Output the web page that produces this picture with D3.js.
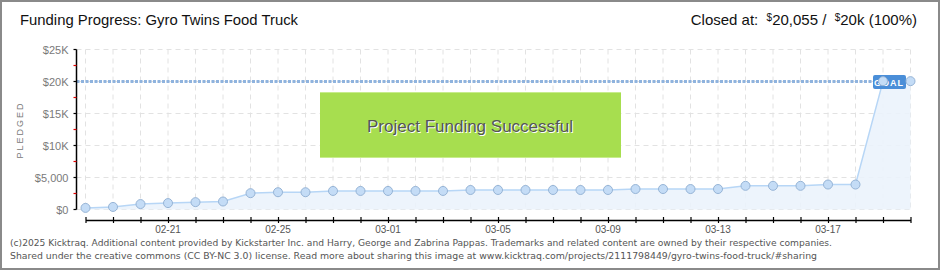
<!DOCTYPE html>
<html>
<head>
<meta charset="utf-8">
<script src="https://cdn.jsdelivr.net/npm/d3@7"></script>
<style>
  body { margin: 0; background: #fff; }
  svg { display: block; }
</style>
</head>
<body>
<svg id="chart" width="940" height="270"></svg>
<script>
// daily pledged totals
var dates = ["2025-02-18","2025-02-19","2025-02-20","2025-02-21","2025-02-22","2025-02-23",
  "2025-02-24","2025-02-25","2025-02-26","2025-02-27","2025-02-28","2025-03-01","2025-03-02",
  "2025-03-03","2025-03-04","2025-03-05","2025-03-06","2025-03-07","2025-03-08","2025-03-09",
  "2025-03-10","2025-03-11","2025-03-12","2025-03-13","2025-03-14","2025-03-15","2025-03-16",
  "2025-03-17","2025-03-18","2025-03-19","2025-03-20"];
var pledged = [250, 400, 850, 1000, 1150, 1250, 2550, 2700, 2700, 2900, 2900, 2900, 2900,
  2900, 3050, 3050, 3050, 3050, 3050, 3050, 3200, 3200, 3200, 3200, 3700, 3700, 3700,
  3900, 3900, 20055, 20055];
var goal = 20000;
var yTicks = [0, 5000, 10000, 15000, 20000, 25000];
var yTickLabels = ["$0", "$5,000", "$10K", "$15K", "$20K", "$25K"];
var xLabelDates = ["2025-02-21","2025-02-25","2025-03-01","2025-03-05","2025-03-09","2025-03-13","2025-03-17"];

var parse = d3.timeParse("%Y-%m-%d");
var data = dates.map(function(d, i) { return { date: parse(d), value: pledged[i] }; });

var svg = d3.select("#chart");
var font = "'Liberation Sans', Arial, sans-serif";

var x = d3.scaleTime()
  .domain([data[0].date, data[data.length - 1].date])
  .range([85.5, 910.5]);
var y = d3.scaleLinear().domain([0, 25000]).range([209.5, 49.5]);
var axisX = 76.5, plotRight = 910.5;

// frame
svg.append("rect").attr("x", 1).attr("y", 1).attr("width", 938).attr("height", 268)
  .attr("fill", "#fff").attr("stroke", "#8a8a8a").attr("stroke-width", 2);

// grid
var grid = svg.append("g").attr("stroke", "#e2e2e2").attr("stroke-dasharray", "5,4");
grid.selectAll("line.h").data(yTicks).enter().append("line")
  .attr("x1", axisX).attr("x2", plotRight)
  .attr("y1", function(d) { return y(d); }).attr("y2", function(d) { return y(d); });
grid.selectAll("line.v").data(data).enter().append("line")
  .attr("x1", function(d) { return x(d.date); }).attr("x2", function(d) { return x(d.date); })
  .attr("y1", y(25000)).attr("y2", y(0));

// area
svg.append("path").datum(data)
  .attr("fill", "#ebf3fc").attr("fill-opacity", 0.9)
  .attr("d", d3.area().x(function(d) { return x(d.date); }).y0(y(0)).y1(function(d) { return y(d.value); }));

// success box
var box = svg.append("g");
box.append("rect").attr("x", 320).attr("y", 92).attr("width", 301).attr("height", 66)
  .attr("fill", "#a7de4f");
box.append("line").attr("x1", 320).attr("x2", 621).attr("y1", 92.5).attr("y2", 92.5).attr("stroke", "#c7ec8d");
box.append("line").attr("x1", 320).attr("x2", 621).attr("y1", 157.5).attr("y2", 157.5).attr("stroke", "#c7ec8d");
box.append("text").attr("x", 471).attr("y", 133).attr("text-anchor", "middle")
  .attr("font-family", font).attr("font-size", 17).attr("fill", "#fff")
  .text("Project Funding Successful");
box.append("text").attr("x", 470).attr("y", 132).attr("text-anchor", "middle")
  .attr("font-family", font).attr("font-size", 17).attr("fill", "#555")
  .text("Project Funding Successful");

// goal line
svg.append("line").attr("x1", axisX).attr("x2", plotRight)
  .attr("y1", y(goal)).attr("y2", y(goal))
  .attr("stroke", "#8fb3de").attr("stroke-width", 3).attr("stroke-dasharray", "3,1.5");

svg.append("path").datum(data)
  .attr("fill", "none").attr("stroke", "#b7d6f6").attr("stroke-width", 1.5)
  .attr("d", d3.line().x(function(d) { return x(d.date); }).y(function(d) { return y(d.value); }));

// goal tag
var gx = x(parse("2025-03-19"));
svg.append("rect").attr("x", gx - 10).attr("y", 75).attr("width", 33).attr("height", 14).attr("rx", 2)
  .attr("fill", "#4a8ed8");
svg.append("text").attr("x", gx + 6).attr("y", 85.5).attr("text-anchor", "middle")
  .attr("font-family", font).attr("font-size", 9).attr("font-weight", "bold")
  .attr("letter-spacing", 1).attr("fill", "#fff").text("GOAL");

// markers
svg.selectAll("circle.pt").data(data).enter().append("circle")
  .attr("cx", function(d) { return x(d.date); }).attr("cy", function(d) { return y(d.value); })
  .attr("r", 4.5).attr("fill", "#c4dcf6").attr("stroke", "#96b4d6").attr("stroke-width", 1);

// y axis
var yAxis = svg.append("g").attr("transform", "translate(" + axisX + ",0)");
yAxis.append("line").attr("y1", y(25000)).attr("y2", y(0)).attr("stroke", "#000").attr("stroke-width", 1.5);
yAxis.selectAll("line.minor").data(d3.range(2500, 25000, 5000)).enter().append("line")
  .attr("x1", -3).attr("x2", 0)
  .attr("y1", function(d) { return y(d); }).attr("y2", function(d) { return y(d); })
  .attr("stroke", "#e00000").attr("stroke-width", 1.2);
yAxis.selectAll("line.major").data(yTicks).enter().append("line")
  .attr("x1", -3).attr("x2", 0)
  .attr("y1", function(d) { return y(d); }).attr("y2", function(d) { return y(d); })
  .attr("stroke", "#000").attr("stroke-width", 1.2);
yAxis.selectAll("text").data(yTicks).enter().append("text")
  .attr("x", -8).attr("y", function(d) { return y(d) + 4; })
  .attr("text-anchor", "end").attr("font-family", font).attr("font-size", 11).attr("fill", "#7a7a7a")
  .text(function(d, i) { return yTickLabels[i]; });

svg.append("text").attr("transform", "translate(23,130) rotate(-90)")
  .attr("text-anchor", "middle").attr("font-family", font).attr("font-size", 9)
  .attr("letter-spacing", 2).attr("fill", "#777").text("PLEDGED");

// x axis
var xAxis = d3.axisBottom(x).ticks(d3.timeDay.every(1)).tickSize(3).tickSizeOuter(0).tickFormat("");
var gX = svg.append("g").attr("transform", "translate(0,220)").call(xAxis);
gX.select(".domain").attr("stroke", "#000").attr("stroke-width", 1.5);
gX.selectAll(".tick line").attr("y1", -3).attr("stroke", "#000").attr("stroke-width", 1.2);
gX.selectAll("text.l").data(xLabelDates).enter().append("text").attr("class", "l")
  .attr("x", function(d) { return x(parse(d)); }).attr("y", 13)
  .attr("text-anchor", "middle").attr("font-family", font).attr("font-size", 10).attr("fill", "#555")
  .text(function(d) { return d3.timeFormat("%m-%d")(parse(d)); });

// header
svg.append("text").attr("x", 20).attr("y", 25).attr("font-family", font).attr("font-size", 15)
  .attr("fill", "#111").attr("textLength", 278).attr("lengthAdjust", "spacingAndGlyphs")
  .text("Funding Progress: Gyro Twins Food Truck");
var closedAt = svg.append("text").attr("x", 917).attr("y", 25).attr("text-anchor", "end")
  .attr("font-family", font).attr("font-size", 15).attr("fill", "#111");
closedAt.append("tspan").text("Closed at:\u00a0\u00a0");
closedAt.append("tspan").attr("font-size", 10).attr("dy", -4).text("$");
closedAt.append("tspan").attr("dy", 4).text("20,055 /\u00a0\u00a0");
closedAt.append("tspan").attr("font-size", 10).attr("dy", -4).text("$");
closedAt.append("tspan").attr("dy", 4).text("20k (100%)");

// footer
var foot = ["(c)2025 Kicktraq. Additional content provided by Kickstarter Inc. and Harry, George and Zabrina Pappas. Trademarks and related content are owned by their respective companies.",
  "Shared under the creative commons (CC BY-NC 3.0) license. Read more about sharing this image at www.kicktraq.com/projects/2111798449/gyro-twins-food-truck/#sharing"];
var footLen = [822, 807];
svg.selectAll("text.foot").data(foot).enter().append("text").attr("class", "foot")
  .attr("x", 10).attr("y", function(d, i) { return 246 + i * 13; })
  .attr("font-family", "'DejaVu Sans', Verdana, sans-serif").attr("font-size", 9.5).attr("fill", "#555")
  .attr("textLength", function(d, i) { return footLen[i]; }).attr("lengthAdjust", "spacingAndGlyphs")
  .text(function(d) { return d; });
</script>
</body>
</html>
